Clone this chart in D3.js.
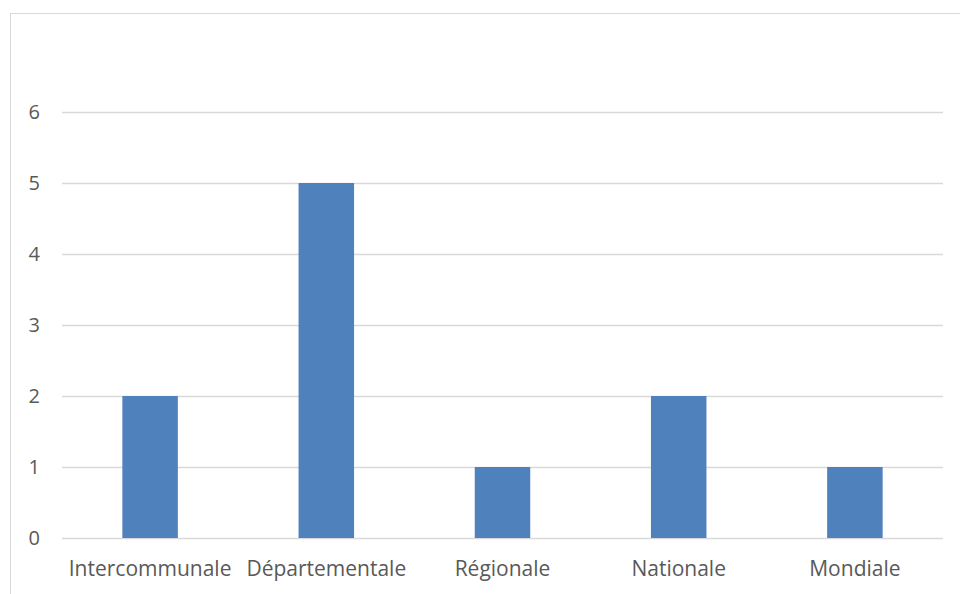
<!DOCTYPE html>
<html>
<head>
<meta charset="utf-8">
<script src="https://cdn.jsdelivr.net/npm/d3@7"></script>
<style>
  body { margin: 0; background: #fff; }
  svg { display: block; }
  text { font-family: "Open Sans", sans-serif; fill: #595959; }
</style>
</head>
<body>
<svg id="chartArea" width="960" height="594"></svg>
<script>
const categories = ["Intercommunale", "Départementale", "Régionale", "Nationale", "Mondiale"];
const counts = [2, 5, 1, 2, 1];
const yTicks = [0, 1, 2, 3, 4, 5, 6];

function createChart() {
    const svg = d3.select("#chartArea");
    const margin = {top: 112, left: 62, right: 17, bottom: 56};
    const width = 960, height = 594;
    const cWidth = width - margin.left - margin.right;
    const cHeight = height - margin.top - margin.bottom;

    // outer frame
    svg.append("rect")
        .attr("x", 10.5).attr("y", 13.5)
        .attr("width", 960).attr("height", 600)
        .attr("fill", "none")
        .attr("stroke", "#d9d9d9");

    const g = svg.append("g")
        .attr("transform", `translate(${margin.left}, ${margin.top})`);

    const x = d3.scaleBand()
        .domain(categories)
        .range([0, cWidth])
        .paddingInner(0.685)
        .paddingOuter(0.3425);

    const y = d3.scaleLinear()
        .domain([0, 6])
        .range([cHeight, 0]);

    // gridlines
    g.selectAll(".grid")
        .data(yTicks)
        .enter().append("line")
        .attr("x1", 0).attr("x2", cWidth)
        .attr("y1", d => Math.round(y(d)) + 0.5)
        .attr("y2", d => Math.round(y(d)) + 0.5)
        .attr("stroke", "#d9d9d9")
        .attr("stroke-width", 1.5);

    g.selectAll(".bar")
        .data(categories)
        .enter().append("rect")
        .attr("x", d => x(d))
        .attr("y", (d, i) => y(counts[i]))
        .attr("width", x.bandwidth())
        .attr("height", (d, i) => y(0) - y(counts[i]))
        .attr("fill", "#4f81bd");

    // y labels
    g.selectAll(".ylab")
        .data(yTicks)
        .enter().append("text")
        .attr("x", -22)
        .attr("y", d => y(d))
        .attr("dy", "0.35em")
        .attr("text-anchor", "end")
        .style("font-size", "20px")
        .text(d => d);

    // x labels
    g.selectAll(".xlab")
        .data(categories)
        .enter().append("text")
        .attr("x", d => x(d) + x.bandwidth() / 2)
        .attr("y", cHeight + 38)
        .attr("text-anchor", "middle")
        .style("font-size", "21px")
        .text(d => d);
}

createChart();
</script>
</body>
</html>
